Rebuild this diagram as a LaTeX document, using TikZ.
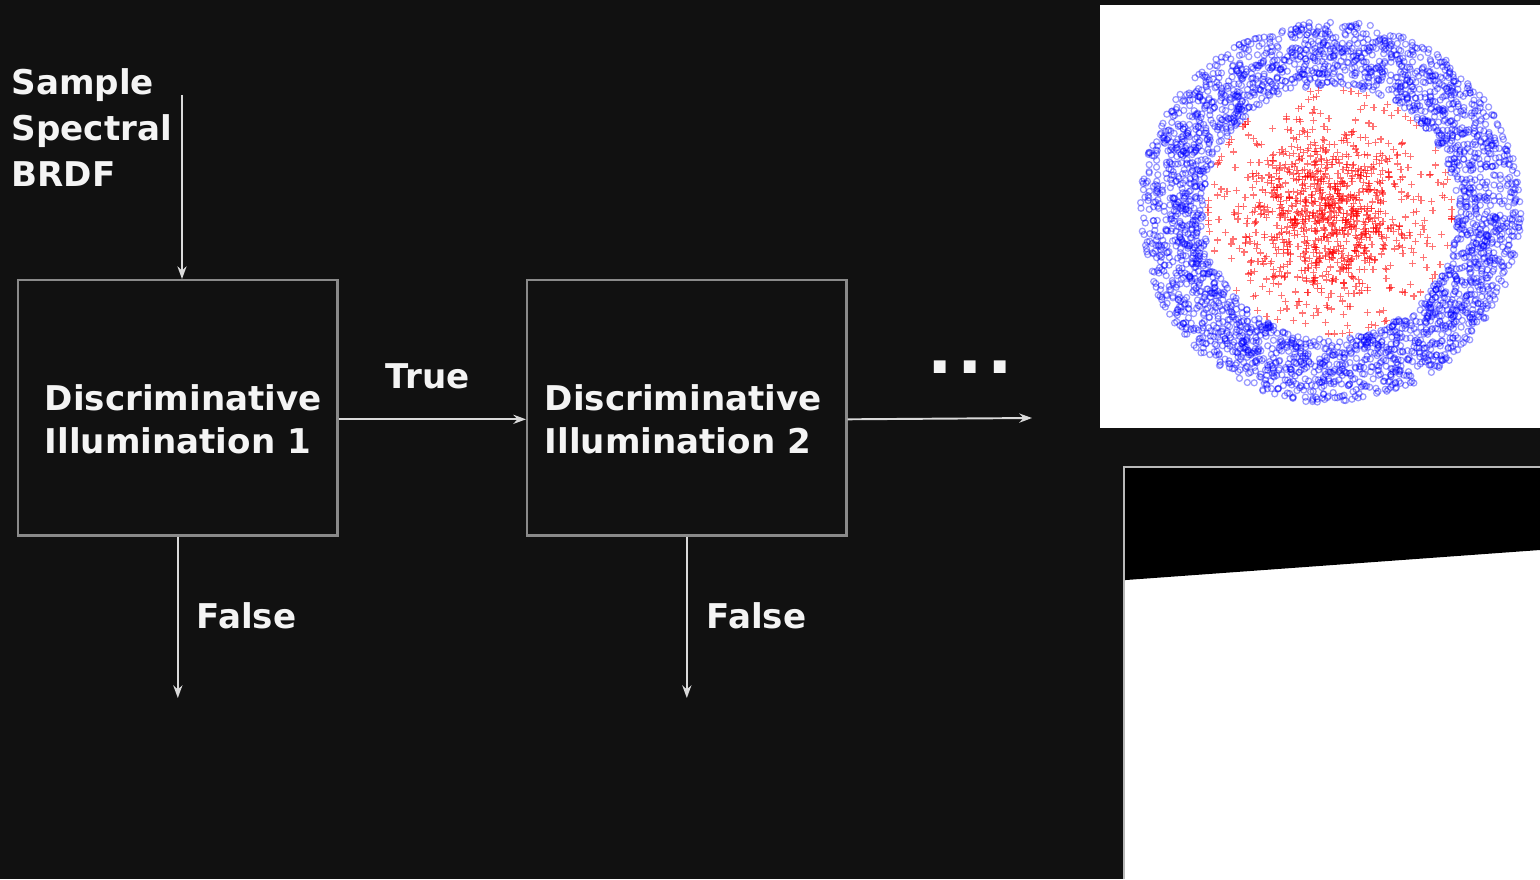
\documentclass[tikz,border=0pt]{standalone}
\usepackage{fontspec}
\setmainfont{DejaVu Sans}
\usetikzlibrary{arrows.meta}
\definecolor{bg}{HTML}{111111}
\definecolor{boxgray}{HTML}{8A8A8A}
\definecolor{linegray}{HTML}{DADADA}
\definecolor{txt}{HTML}{F4F4F4}
\definecolor{ringblue}{HTML}{0000FF}
\definecolor{plusred}{HTML}{FF0000}
\tikzset{
  lbl/.style={text=txt, font=\bfseries\fontsize{9.7}{13}\selectfont, inner sep=0pt, anchor=base west},
  lblml/.style={text=txt, font=\bfseries\fontsize{9.7}{13}\selectfont, inner sep=0pt, align=left, anchor=north west},
  stagebox/.style={draw=boxgray, line width=0.7pt, anchor=north west, minimum width=3.19cm, minimum height=2.55cm, inner sep=0pt},
  conn/.style={draw=linegray, line width=0.55pt, -{Stealth[length=3.6pt,width=2.6pt]}},
  ringmark/.style={draw=ringblue, draw opacity=0.4, line width=0.35pt},
  plusmark/.style={draw=plusred, draw opacity=0.55, line width=0.35pt},
}
\begin{document}
\begin{tikzpicture}[x=0.01cm,y=-0.01cm]
\fill[bg] (0,0) rectangle (1540,879);
\useasboundingbox (0,0) rectangle (1540,879);

% boxes
\node[stagebox] (b1) at (17,279) {};
\node[stagebox] (b2) at (526,279) {};

% labels
\node[lblml] (inp) at (11,68) {Sample\\Spectral\\BRDF};
\node[lbl] (b1l1) at (44,410) {Discriminative};
\node[lbl] (b1l2) at (44,453) {Illumination 1};
\node[lbl] (b2l1) at (544,410) {Discriminative};
\node[lbl] (b2l2) at (544,453) {Illumination 2};
\node[lbl] (true) at (385,388) {True};
\node[lbl] (f1l) at (196,628) {False};
\node[lbl] (f2l) at (706,628) {False};
\node[text=txt, font=\bfseries\fontsize{19}{19}\selectfont, inner sep=0pt, anchor=base west] (dots) at (927,373) {.\hspace{0.07em}.\hspace{0.07em}.};

% connectors
\coordinate (in) at (182,95);
\coordinate (out) at (1032,418);
\coordinate (f1) at (177,698);
\coordinate (f2) at (686,698);
\draw[conn] (in) -- (in |- b1.north);
\draw[conn] ([yshift=-0.115cm]b1.east) -- ([yshift=-0.115cm]b2.west);
\draw[conn] ([yshift=-0.115cm]b2.east) -- (out);
\draw[conn] (b1.south) -- (b1.south |- f1);
\draw[conn] (b2.south) -- (b2.south |- f2);

% scatter panel
\fill[white] (1100,5) rectangle (1540,428);
\pgfmathsetseed{11}
\begin{scope}[shift={(1330,212)}]
\foreach \i in {1,...,3000}{
  \pgfmathsetmacro{\ang}{360*rnd}
  \pgfmathsetmacro{\rad}{127+64*rnd}
  \draw[ringmark] (\ang:\rad) circle[radius=3];
}
\foreach \i in {1,...,1000}{
  \pgfmathsetmacro{\ang}{360*rnd}
  \pgfmathsetmacro{\rad}{min(122,50*sqrt(-2*ln(rnd+0.0001)))}
  \draw[plusmark] ([shift={(-3.5,0)}]\ang:\rad) -- ([shift={(3.5,0)}]\ang:\rad)
                  ([shift={(0,-3.5)}]\ang:\rad) -- ([shift={(0,3.5)}]\ang:\rad);
}
\end{scope}

% bottom panel
\fill[white] (1124,467) rectangle (1540,879);
\fill[black] (1124,467) -- (1540,467) -- (1540,550) -- (1126,580) -- (1124,580) -- cycle;
\draw[boxgray!60!white, line width=0.4pt] (1124,879) -- (1124,467) -- (1540,467);
\end{tikzpicture}
\end{document}
